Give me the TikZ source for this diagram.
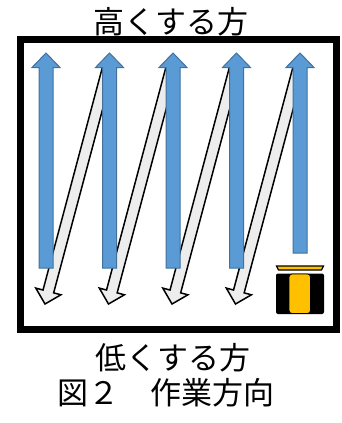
\documentclass[tikz,border=0pt]{standalone}
\usepackage{fontspec}
\newfontfamily\jpfont{Noto Sans CJK JP}
\usetikzlibrary{calc}
\definecolor{laneblue}{HTML}{5B9BD5}
\definecolor{laneedge}{HTML}{41719C}
\definecolor{backgray}{HTML}{EDEDED}
\definecolor{tractor}{HTML}{FFC000}

\begin{document}
\begin{tikzpicture}[x=1pt, y=-1pt,
            uparrow/.style={fill=laneblue, draw=laneedge, line width=1pt},
            backarrow/.style={fill=backgray, draw=black, line width=1.5pt},
            label/.style={font=\jpfont\fontsize{31}{31}\selectfont, inner sep=0pt}]
            \fill[white] (0,0) rectangle (341,423);
            \useasboundingbox (0,0) rectangle (341,423);
            \draw[line width=7pt] (20.5,39.5) rectangle (336.5,329);
            \foreach \n/\x in {1/46,2/109.5,3/173,4/236.5,5/300}
                \coordinate (lane\n) at (\x,0);
            % return runs
            \foreach \i/\j in {2/1,3/2,4/3,5/4} {
                \coordinate (tl) at ($(lane\i)+(0,62)$);
                \coordinate (tp) at ($(lane\j)+(-1,304)$);
                \coordinate (hb) at ($(tp)!13pt!(tl)$);
                \draw[backarrow] ($(tl)!5.5pt!90:(tp)$) -- ($(hb)!5.5pt!-90:(tl)$)
                    -- ($(hb)!13pt!-90:(tl)$) -- (tp) -- ($(hb)!13pt!90:(tl)$)
                    -- ($(hb)!5.5pt!90:(tl)$) -- ($(tl)!5.5pt!-90:(tp)$) -- cycle;
            }
            % working runs
            \foreach \n/\b in {1/268,2/268,3/268,4/268,5/253}
                \draw[uparrow] ($(lane\n)+(-7,\b)$) -- ($(lane\n)+(-7,67.5)$) -- ($(lane\n)+(-14,67.5)$)
                    -- ($(lane\n)+(0,53)$) -- ($(lane\n)+(14,67.5)$) -- ($(lane\n)+(7,67.5)$)
                    -- ($(lane\n)+(7,\b)$) -- cycle;
            % machine
            \draw[fill=tractor, line width=1.2pt] (276.5,266) -- (323.5,266) -- (321.5,270) -- (278.5,270) -- cycle;
            \fill[rounded corners=2pt] (276,273.5) rectangle (324,314);
            \draw[fill=tractor, line width=0.8pt, rounded corners=3pt] (289,274) rectangle (310.5,313.5);
            \node[label] (high) at (170.5,21.5) {高くする方};
            \node[label] (low) at (172.5,357.5) {低くする方};
            \node[label] (cap) at (165.5,392.5) {図２　作業方向};
        \end{tikzpicture}
\end{document}
